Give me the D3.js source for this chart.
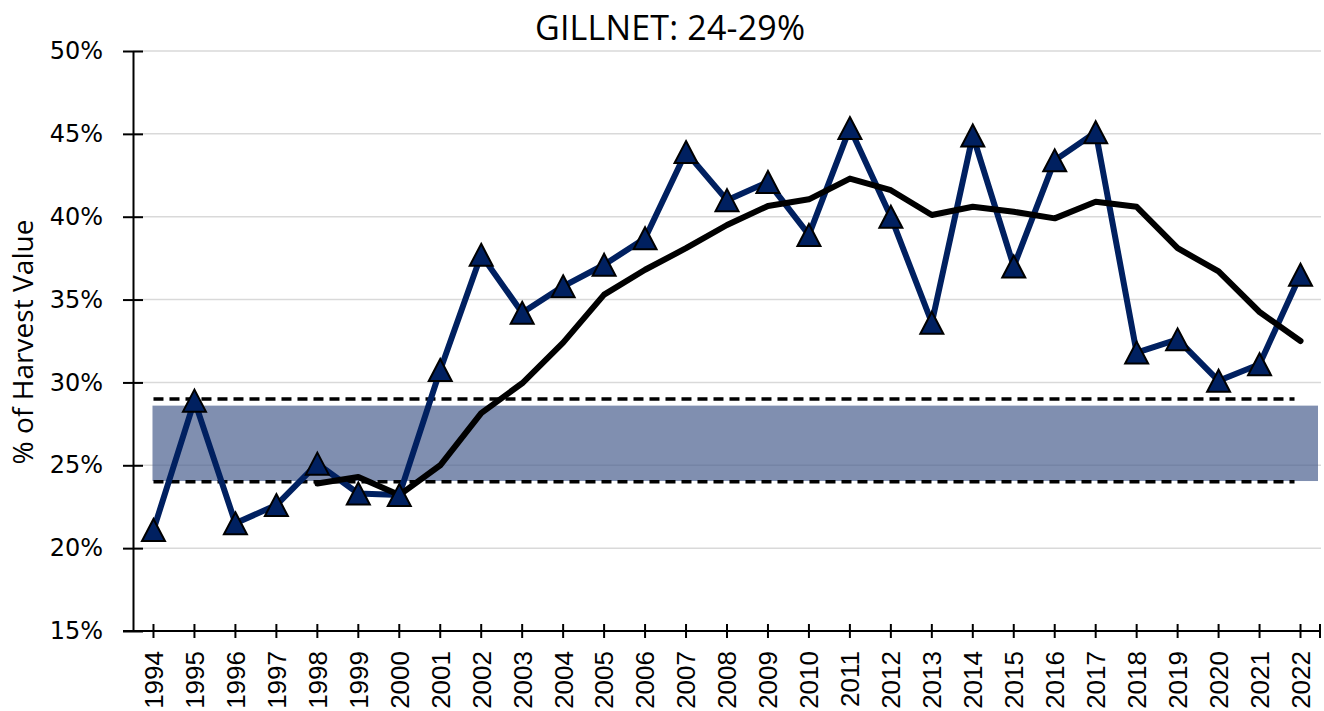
<!DOCTYPE html>
<html>
<head>
<meta charset="utf-8">
<script src="https://cdn.jsdelivr.net/npm/d3@7"></script>
<style>
  body { margin: 0; background: #fff; }
  svg { display: block; }
  .tick-y text { font-family: "DejaVu Sans", sans-serif; font-size: 24px; fill: #000; }
  .tick-x text { font-family: "Liberation Sans", Arial, sans-serif; font-size: 26px; fill: #000; }
</style>
</head>
<body>
<svg width="1324" height="711"></svg>
<script>
// chart values
const years = ["1994","1995","1996","1997","1998","1999","2000","2001","2002","2003",
  "2004","2005","2006","2007","2008","2009","2010","2011","2012","2013",
  "2014","2015","2016","2017","2018","2019","2020","2021","2022"]
const shareValue = [21.1, 28.9, 21.5, 22.6, 25.1, 23.3, 23.2, 30.75, 37.7, 34.2,
  35.8, 37.1, 38.7, 43.9, 41.0, 42.1, 38.9, 45.35, 40.0, 33.6,
  44.9, 37.0, 43.4, 45.1, 31.8, 32.6, 30.1, 31.1, 36.5]
// 5-year running average, starts in 1998
const avgValue = [null, null, null, null, 23.9, 24.3, 23.2, 25.0, 28.15, 29.95,
  32.4, 35.3, 36.8, 38.1, 39.5, 40.65, 41.05, 42.3, 41.6, 40.1,
  40.6, 40.3, 39.9, 40.9, 40.6, 38.1, 36.7, 34.25, 32.5]
const targetRange = [24, 29]
const bandRange = [24.05, 28.6]
const yTicks = [15, 20, 25, 30, 35, 40, 45, 50]
const title = "GILLNET: 24-29%"
const yTitle = "% of Harvest Value"

const svg = d3.select('svg')
const margin = {left: 133, right: 1321, top: 51, bottom: 631}

const x = d3.scaleBand()
  .domain(years)
  .range([margin.left, margin.right])
const cx = d => x(d) + x.bandwidth() / 2

const y = d3.scaleLinear()
  .domain([15, 50])
  .range([margin.bottom, margin.top])

// gridlines
svg.append('g')
  .selectAll('line')
  .data(yTicks.slice(1))
  .enter().append('line')
  .attr('x1', margin.left).attr('x2', margin.right)
  .attr('y1', d => y(d)).attr('y2', d => y(d))
  .attr('stroke', '#d9d9d9')
  .attr('stroke-width', 1.5)

// target band
svg.append('rect')
  .attr('x', cx(years[0]) - 1)
  .attr('y', y(bandRange[1]))
  .attr('width', margin.right - 3 - (cx(years[0]) - 1))
  .attr('height', y(bandRange[0]) - y(bandRange[1]))
  .attr('fill', '#4a5f8f')
  .attr('fill-opacity', 0.7)

// dashed limits
svg.append('g')
  .selectAll('line')
  .data(targetRange)
  .enter().append('line')
  .attr('x1', cx(years[0])).attr('x2', cx(years[years.length - 1]) - 6)
  .attr('y1', d => y(d)).attr('y2', d => y(d))
  .attr('stroke', '#000')
  .attr('stroke-width', 3.5)
  .attr('stroke-dasharray', '10,6')

// axes
const yAxis = svg.append('g')
  .attr('class', 'tick-y')
  .attr('transform', `translate(${margin.left},0)`)
  .call(d3.axisLeft(y).tickValues(yTicks).tickFormat(d => d + '%').tickSize(10).tickSizeOuter(0))
yAxis.select('.domain').attr('stroke', '#000').attr('stroke-width', 2)
yAxis.selectAll('.tick line').attr('stroke', '#000').attr('stroke-width', 2).attr('x2', 10).attr('x1', -10)
yAxis.selectAll('.tick text').attr('x', -30)

const xAxis = svg.append('g')
  .attr('class', 'tick-x')
  .attr('transform', `translate(0,${margin.bottom})`)
  .call(d3.axisBottom(x).tickSize(7).tickSizeOuter(0))
xAxis.select('.domain').attr('stroke', '#000').attr('stroke-width', 2)
  .attr('d', `M${margin.left - 10},0H${margin.right}`)
xAxis.selectAll('.tick line').attr('stroke', '#000').attr('stroke-width', 2).attr('y1', -7).attr('y2', 7)
xAxis.selectAll('.tick text')
  .attr('transform', 'rotate(-90)')
  .attr('text-anchor', 'end')
  .attr('x', -20).attr('y', 0).attr('dy', '0.36em')
xAxis.append('line')
  .attr('x1', margin.right - 1).attr('x2', margin.right - 1)
  .attr('y1', -7).attr('y2', 7)
  .attr('stroke', '#000').attr('stroke-width', 2)

// share series
const line = d3.line()
  .defined(d => d[1] != null)
  .x(d => cx(d[0]))
  .y(d => y(d[1]))

svg.append('path')
  .datum(years.map((yr, i) => [yr, shareValue[i]]))
  .attr('d', line)
  .attr('fill', 'none')
  .attr('stroke', '#002060')
  .attr('stroke-width', 6)
  .attr('stroke-linejoin', 'round')

svg.append('path')
  .datum(years.map((yr, i) => [yr, avgValue[i]]))
  .attr('d', line)
  .attr('fill', 'none')
  .attr('stroke', '#000')
  .attr('stroke-width', 6)
  .attr('stroke-linejoin', 'round')
  .attr('stroke-linecap', 'round')

// triangle marker inside a square box, like the spreadsheet marker
const tri = 'M0,-11L11.5,11L-11.5,11Z'
svg.append('g')
  .selectAll('path')
  .data(years.map((yr, i) => [yr, shareValue[i]]))
  .enter().append('path')
  .attr('d', tri)
  .attr('transform', d => `translate(${cx(d[0])},${y(d[1])})`)
  .attr('fill', '#002060')
  .attr('stroke', '#000')
  .attr('stroke-width', 2)
  .attr('stroke-linejoin', 'miter')

// titles
svg.append('text')
  .attr('x', 670).attr('y', 40)
  .attr('text-anchor', 'middle')
  .attr('font-family', 'Open Sans, sans-serif')
  .attr('font-size', 34)
  .attr('textLength', 270)
  .text(title)

svg.append('text')
  .attr('transform', 'translate(33,342) rotate(-90)')
  .attr('text-anchor', 'middle')
  .attr('font-family', 'Open Sans, sans-serif')
  .attr('font-size', 28)
  .attr('textLength', 245)
  .text(yTitle)
</script>
</body>
</html>
